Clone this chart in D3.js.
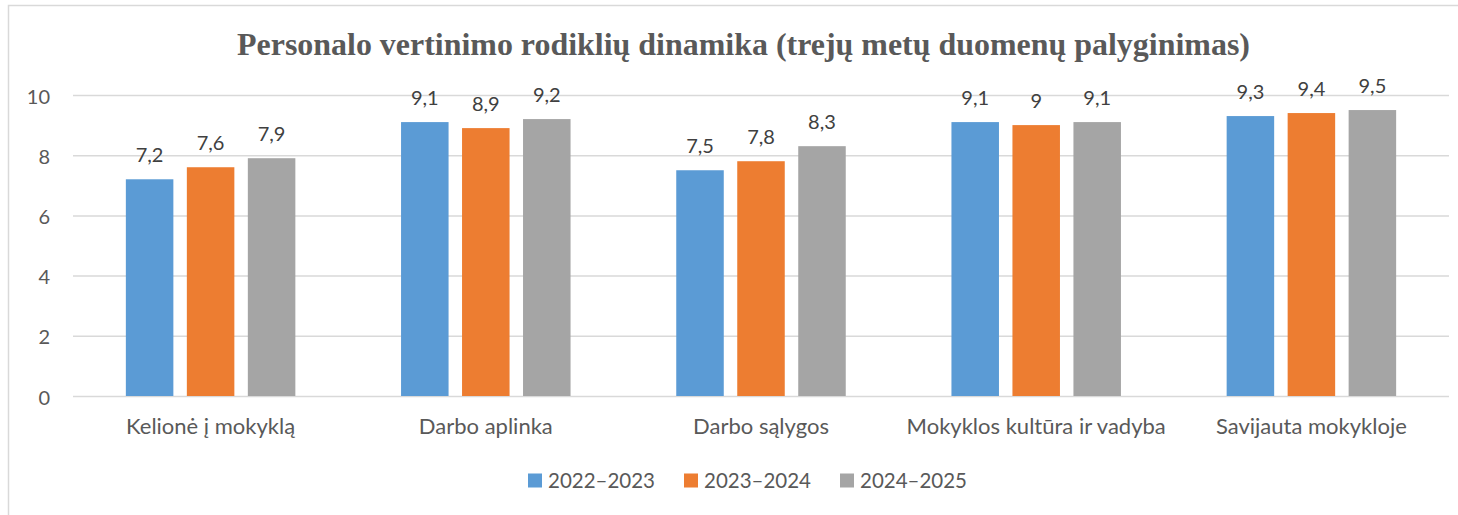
<!DOCTYPE html>
<html>
<head>
<meta charset="utf-8">
<script src="https://cdn.jsdelivr.net/npm/d3@7"></script>
<style>
  html, body { margin: 0; padding: 0; background: #fff; }
  svg { display: block; }
</style>
</head>
<body>
<svg id="chart" width="1458" height="515"></svg>
<script>
const title = "Personalo vertinimo rodiklių dinamika (trejų metų duomenų palyginimas)";
const categories = ["Kelionė į mokyklą", "Darbo aplinka", "Darbo sąlygos", "Mokyklos kultūra ir vadyba", "Savijauta mokykloje"];
const seriesNames = ["2022–2023", "2023–2024", "2024–2025"];
const values2022 = [7.2, 9.1, 7.5, 9.1, 9.3];
const values2023 = [7.6, 8.9, 7.8, 9.0, 9.4];
const values2024 = [7.9, 9.2, 8.3, 9.1, 9.5];
const yTicks = [0, 2, 4, 6, 8, 10];
const colors = ["#5B9BD5", "#ED7D31", "#A5A5A5"];

const seriesValues = [values2022, values2023, values2024];
const textColor = "#595959";
const gridColor = "#D9D9D9";
const font = "Lato, 'Open Sans', sans-serif";

const svg = d3.select("#chart");

// outer chart border
svg.append("rect")
  .attr("x", 8.5).attr("y", 5.5)
  .attr("width", 1600).attr("height", 700)
  .attr("fill", "none").attr("stroke", gridColor).attr("stroke-width", 1.5);

const plot = { left: 73, right: 1449, top: 95, bottom: 396 };

const x0 = d3.scaleBand().domain(categories).range([plot.left, plot.right]).paddingInner(0).paddingOuter(0);
const groupW = 169.5;
const x1 = d3.scaleBand().domain(seriesNames).range([0, groupW]).paddingInner(0.221).paddingOuter(0);
const y = d3.scaleLinear().domain([0, 10]).range([plot.bottom, plot.top]);

// gridlines + y labels
const yAxis = svg.append("g")
  .attr("transform", `translate(${plot.left},0)`)
  .call(d3.axisLeft(y).tickValues(yTicks).tickSize(-(plot.right - plot.left)).tickPadding(23).tickFormat(d3.format("d")));
yAxis.select(".domain").remove();
yAxis.selectAll(".tick line").attr("stroke", gridColor).attr("stroke-width", 1.5);
yAxis.selectAll(".tick text")
  .attr("fill", textColor).attr("font-family", font).attr("font-size", 20).attr("dy", "0.4em");

// bars
const groups = svg.append("g").selectAll("g")
  .data(categories)
  .join("g")
  .attr("transform", d => `translate(${x0(d) + (x0.bandwidth() - groupW) / 2},0)`);

const fmt = v => (Number.isInteger(v) ? String(v) : v.toFixed(1).replace(".", ","));

groups.each(function(cat, ci) {
  const g = d3.select(this);
  seriesNames.forEach((s, si) => {
    const v = seriesValues[si][ci];
    g.append("rect")
      .attr("x", x1(s)).attr("width", x1.bandwidth())
      .attr("y", y(v)).attr("height", y(0) - y(v))
      .attr("fill", colors[si]);
    g.append("text")
      .attr("x", x1(s) + x1.bandwidth() / 2)
      .attr("y", y(v) - 17.5)
      .attr("text-anchor", "middle")
      .attr("fill", "#404040")
      .attr("font-family", font).attr("font-size", 20)
      .text(fmt(v));
  });
});

// category axis
const xAxis = svg.append("g")
  .attr("transform", `translate(0,${plot.bottom})`)
  .call(d3.axisBottom(x0).tickSize(0).tickPadding(26));
xAxis.select(".domain").remove();
xAxis.selectAll(".tick text")
  .attr("fill", textColor).attr("font-family", font).attr("font-size", 22).attr("dy", "0.55em");

// title, fitted to the reference width
const t = svg.append("text")
  .attr("x", 743.5).attr("y", 55)
  .attr("text-anchor", "middle")
  .attr("fill", textColor)
  .attr("font-family", "'Liberation Serif', 'Times New Roman', serif")
  .attr("font-weight", "bold")
  .attr("font-size", 100)
  .text(title);
const tw = t.node().getComputedTextLength();
t.attr("font-size", 100 * 1013 / tw);

// legend
const legend = svg.append("g");
const legendX = [528, 684, 840];
seriesNames.forEach((s, i) => {
  const lg = legend.append("g").attr("transform", `translate(${legendX[i]},473.5)`);
  lg.append("rect").attr("width", 14).attr("height", 14).attr("fill", colors[i]);
  lg.append("text")
    .attr("x", 20).attr("y", 14.5)
    .attr("fill", textColor).attr("font-family", font).attr("font-size", 20.5)
    .text(s);
});
</script>
</body>
</html>
